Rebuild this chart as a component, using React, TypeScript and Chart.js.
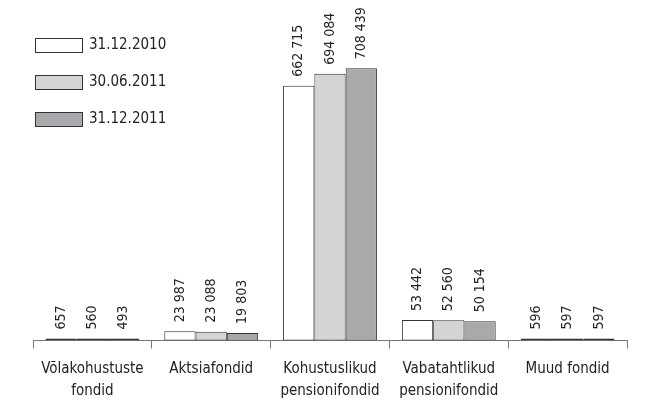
import React, { useEffect, useRef } from "react";
import { Chart, registerables } from "chart.js";

Chart.register(...registerables);

const categories: string[][] = [
  ["Võlakohustuste", "fondid"],
  ["Aktsiafondid"],
  ["Kohustuslikud", "pensionifondid"],
  ["Vabatahtlikud", "pensionifondid"],
  ["Muud fondid"],
];
const seriesNames = ["31.12.2010", "30.06.2011", "31.12.2011"];
const values2010 = [657, 23987, 662715, 53442, 596];
const values2011a = [560, 23088, 694084, 52560, 597];
const values2011b = [493, 19803, 708439, 50154, 597];
const fills = ["#ffffff", "#d4d4d5", "#a9a9ab"];

const FONT = "'DejaVu Sans Condensed', 'Liberation Sans Narrow', sans-serif";

const fmt = (v: number) => String(v).replace(/\B(?=(\d{3})+(?!\d))/g, " ");

const labelPlugin = {
  id: "valueLabels",
  afterDatasetsDraw(chart: any) {
    const ctx = chart.ctx;
    ctx.save();
    ctx.font = `14px ${FONT}`;
    ctx.fillStyle = "#222";
    ctx.textAlign = "left";
    ctx.textBaseline = "middle";
    chart.data.datasets.forEach((ds: any, di: number) => {
      const meta = chart.getDatasetMeta(di);
      meta.data.forEach((bar: any, i: number) => {
        ctx.save();
        ctx.translate(bar.x, bar.y - 9);
        ctx.rotate(-Math.PI / 2);
        ctx.fillText(fmt(ds.data[i]), 0, 0);
        ctx.restore();
      });
    });
    ctx.restore();
  },
};

const legendPlugin = {
  id: "customLegend",
  afterDraw(chart: any) {
    const ctx = chart.ctx;
    ctx.save();
    ctx.font = `15px ${FONT}`;
    ctx.textAlign = "left";
    ctx.textBaseline = "middle";
    chart.data.datasets.forEach((ds: any, di: number) => {
      const y = 38 + di * 37;
      ctx.fillStyle = ds.backgroundColor;
      ctx.fillRect(35.5, y + 0.5, 47, 14);
      ctx.strokeStyle = "#333";
      ctx.lineWidth = 1;
      ctx.strokeRect(35.5, y + 0.5, 47, 14);
      ctx.fillStyle = "#222";
      ctx.fillText(ds.label, 89, y + 7.5);
    });
    ctx.restore();
  },
};

export default function App() {
  const ref = useRef<HTMLCanvasElement>(null);
  useEffect(() => {
    if (!ref.current) return;
    const series = [values2010, values2011a, values2011b];
    const chart = new Chart(ref.current, {
      type: "bar",
      data: {
        labels: categories,
        datasets: series.map((d, i) => ({
          label: seriesNames[i],
          data: d,
          backgroundColor: fills[i],
          borderColor: "#333",
          borderWidth: 1,
          borderSkipped: false,
          minBarLength: 2,
          categoryPercentage: 0.79,
          barPercentage: 1,
        })),
      },
      options: {
        animation: false,
        responsive: false,
        maintainAspectRatio: false,
        layout: { padding: { left: 33, right: 18, top: 10, bottom: 6 } },
        plugins: { legend: { display: false }, tooltip: { enabled: false } },
        scales: {
          y: { display: false, min: 0, max: 860000 },
          x: {
            border: { display: true, color: "#777", width: 1 },
            grid: {
              offset: true,
              drawOnChartArea: false,
              drawTicks: true,
              tickLength: 8,
              color: "#777",
            },
            ticks: {
              color: "#222",
              padding: 10,
              font: { family: FONT, size: 15, lineHeight: 1.45 },
              maxRotation: 0,
              autoSkip: false,
            },
          },
        },
      },
      plugins: [labelPlugin, legendPlugin],
    });
    return () => chart.destroy();
  }, []);
  return (
    <canvas
      ref={ref}
      width={645}
      height={418}
      style={{ position: "fixed", left: 0, top: 0, width: 645, height: 418, background: "#fff" }}
    />
  );
}
